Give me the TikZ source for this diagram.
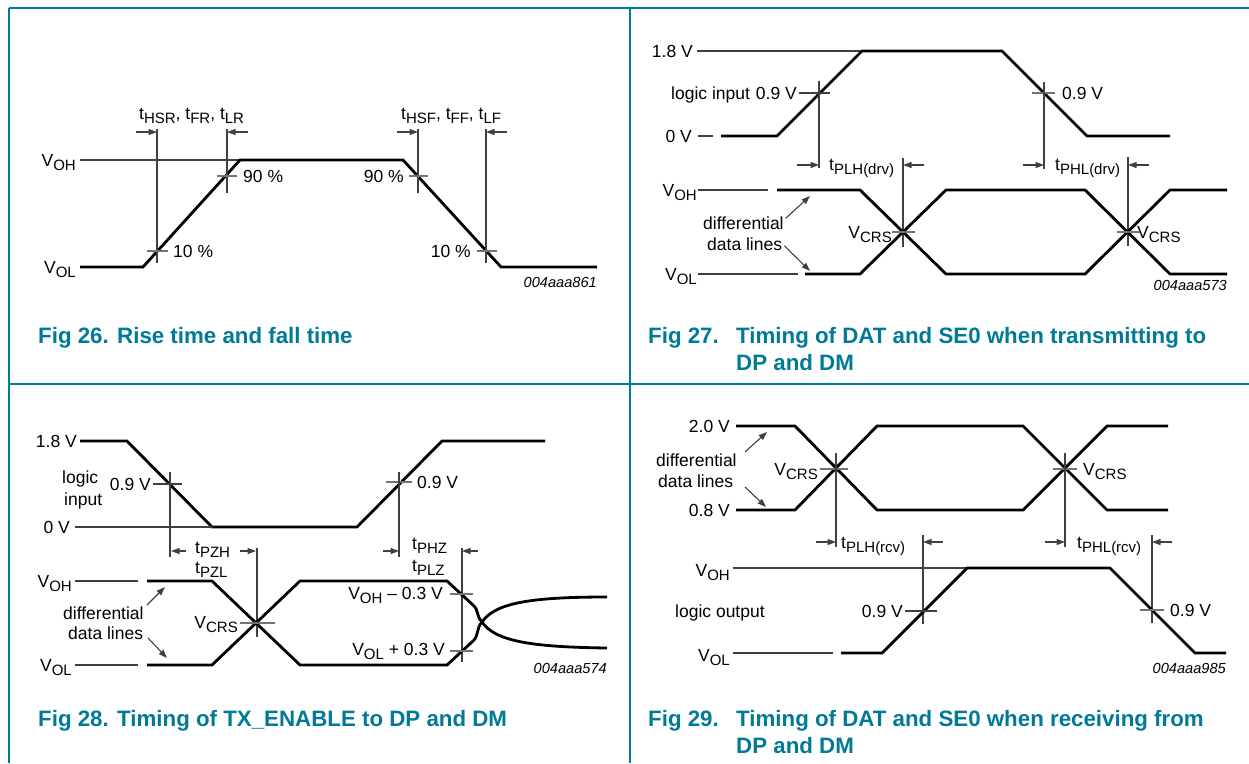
\documentclass[tikz,border=0pt]{standalone}
\usepackage{fontspec}
\setmainfont{Liberation Sans}
\usetikzlibrary{arrows.meta}
\definecolor{nxpblue}{RGB}{0,122,150}
\newcommand{\lo}[1]{\raisebox{-4pt}{\fontsize{15}{15}\selectfont #1}}
\tikzset{
  sig/.style={line width=2.8pt},
  thin/.style={line width=1.1pt, black!75},
  tickline/.style={line width=1.1pt, black!55},
  dim/.style={-{Triangle[length=8.5pt,width=6pt]}, line width=1.1pt, black!75},
  lab/.style={font=\fontsize{17.5}{21}\selectfont, inner sep=0pt},
  capt/.style={font=\fontsize{22.3}{26}\selectfont\bfseries, text=nxpblue, anchor=base west, inner sep=0pt},
  code/.style={font=\fontsize{14.6}{16}\selectfont\itshape, anchor=base east, inner sep=0pt},
  frame/.style={nxpblue, line width=1.8pt}
}
\begin{document}
\begin{tikzpicture}[x=1pt,y=-1pt]
  \useasboundingbox (0,0) rectangle (1249,763);

  % frame
  \draw[frame] (9,8) -- (1249,8);
  \draw[frame] (9,8) -- (9,763);
  \draw[frame] (630,8) -- (630,763);
  \draw[frame] (9,384) -- (1249,384);

  % captions
  \node[capt] (c26a) at (38,343) {Fig 26.};
  \node[capt] (c26b) at (117,343) {Rise time and fall time};
  \node[capt] (c27a) at (648,343) {Fig 27.};
  \node[capt] (c27b) at (736,343) {Timing of DAT and SE0 when transmitting to};
  \node[capt] (c27c) at (736,370) {DP and DM};
  \node[capt] (c28a) at (38,726) {Fig 28.};
  \node[capt] (c28b) at (117,726) {Timing of TX\_ENABLE to DP and DM};
  \node[capt] (c29a) at (648,726) {Fig 29.};
  \node[capt] (c29b) at (736,726) {Timing of DAT and SE0 when receiving from};
  \node[capt] (c29c) at (736,753) {DP and DM};

  % ---- Fig 26: rise and fall time
  \begin{scope}[every node/.style={lab}]
    \node[anchor=base east] (voh26) at (76,166) {V\lo{OH}};
    \node[anchor=base east] (vol26) at (76,273) {V\lo{OL}};
    \node[anchor=base west] (tr26) at (139,119) {t\lo{HSR}, t\lo{FR}, t\lo{LR}};
    \node[anchor=base west] (tf26) at (401,119) {t\lo{HSF}, t\lo{FF}, t\lo{LF}};
    \node[anchor=base west] (r10) at (173,257) {10 \%};
    \node[anchor=base west] (r90) at (243,182) {90 \%};
    \node[anchor=base east] (f90) at (404,182) {90 \%};
    \node[anchor=base east] (f10) at (471,257) {10 \%};
  \end{scope}
  \node[code] (id26) at (597,287) {004aaa861};
  \draw[thin] (80,160) -- (240,160);
  \draw[sig] (80,267) -- (143,267) -- (240,160) -- (403,160) -- (501,267) -- (597,267);
  \draw[thin] (157,129) -- (157,263);
  \draw[thin] (227,129) -- (227,193);
  \draw[thin] (418,129) -- (418,193);
  \draw[thin] (486,129) -- (486,263);
  \draw[tickline] (147,251) -- (168,251);
  \draw[tickline] (217,176) -- (237,176);
  \draw[tickline] (409,176) -- (428,176);
  \draw[tickline] (477,251) -- (497,251);
  \draw[dim] (136,132) -- (157,132);
  \draw[dim] (248,132) -- (227,132);
  \draw[dim] (397,132) -- (418,132);
  \draw[dim] (507,132) -- (486,132);

  % ---- Fig 27: transmitting
  \begin{scope}[every node/.style={lab}]
    \node[anchor=base east] (v18a) at (693,57) {1.8 V};
    \node[anchor=base east] (v0a) at (692,142) {0 V};
    \node[anchor=base west] (li27) at (671,99) {logic input};
    \node[anchor=base east] (v09a) at (797,99) {0.9 V};
    \node[anchor=base west] (v09b) at (1062,99) {0.9 V};
    \node[anchor=base west] (tplh) at (829,170) {t\lo{PLH(drv)}};
    \node[anchor=base west] (tphl) at (1055,170) {t\lo{PHL(drv)}};
    \node[anchor=base east] (voh27) at (697,196) {V\lo{OH}};
    \node[anchor=base east] (vol27) at (697,280) {V\lo{OL}};
    \node[anchor=base west] (df27) at (703,229) {differential};
    \node[anchor=base west] (dl27) at (707,250) {data lines};
    \node[anchor=base east] (crs27a) at (892,238) {V\lo{CRS}};
    \node[anchor=base west] (crs27b) at (1137,238) {V\lo{CRS}};
  \end{scope}
  \node[code] (id27) at (1227,290) {004aaa573};
  \draw[thin] (697,51) -- (862,51);
  \draw[thin] (698,136) -- (713,136);
  \draw[sig] (721,136) -- (777,136) -- (862,51) -- (1002,51) -- (1087,136) -- (1170,136);
  \draw[thin] (799,93) -- (830,93);
  \draw[thin] (819,81) -- (819,168);
  \draw[tickline] (1032,93) -- (1055,93);
  \draw[thin] (1044,82) -- (1044,169);
  \draw[dim] (797,165) -- (819,165);
  \draw[dim] (924,165) -- (903,165);
  \draw[dim] (1023,165) -- (1044,165);
  \draw[dim] (1149,165) -- (1128,165);
  \draw[thin] (903,158) -- (903,247);
  \draw[thin] (1128,157) -- (1128,246);
  \draw[thin] (698,190) -- (768,190);
  \draw[thin] (698,274) -- (798,274);
  \draw[sig] (777,190) -- (860,190) -- (946,274) -- (1085,274) -- (1170,190) -- (1227,190);
  \draw[sig] (805,274) -- (860,274) -- (946,190) -- (1085,190) -- (1170,274) -- (1227,274);
  \draw[tickline] (892,232) -- (915,232);
  \draw[tickline] (1117,232) -- (1140,232);
  \draw[dim] (df27.north east) ++(2,2) -- (810,196);
  \draw[dim] (dl27.east) ++(2,2) -- (810,271);

  % ---- Fig 28: TX_ENABLE
  \begin{scope}[every node/.style={lab}]
    \node[anchor=base east] (v18c) at (77,447) {1.8 V};
    \node[anchor=base east] (v0c) at (70,533) {0 V};
    \node[anchor=base west] (lg28) at (62,483) {logic};
    \node[anchor=base west] (in28) at (64,505) {input};
    \node[anchor=base east] (v09c) at (151,490) {0.9 V};
    \node[anchor=base west] (v09d) at (417,488) {0.9 V};
    \node[anchor=base west] (tpzh) at (195,553) {t\lo{PZH}};
    \node[anchor=base west] (tpzl) at (195,573) {t\lo{PZL}};
    \node[anchor=base west] (tphz) at (412,549) {t\lo{PHZ}};
    \node[anchor=base west] (tplz) at (412,571) {t\lo{PLZ}};
    \node[anchor=base east] (voh28) at (72,587) {V\lo{OH}};
    \node[anchor=base east] (vol28) at (72,671) {V\lo{OL}};
    \node[anchor=base west] (df28) at (63,619) {differential};
    \node[anchor=base west] (dl28) at (68,639) {data lines};
    \node[anchor=base east] (crs28) at (238,628) {V\lo{CRS}};
    \node[anchor=base east] (voh3) at (443,599) {V\lo{OH} – 0.3 V};
    \node[anchor=base east] (vol3) at (445,655) {V\lo{OL} + 0.3 V};
  \end{scope}
  \node[code] (id28) at (607,673) {004aaa574};
  \draw[sig] (80,441) -- (127,441) -- (212,527) -- (357,527) -- (442,441) -- (545,441);
  \draw[thin] (75,527) -- (212,527);
  \draw[thin] (153,484) -- (182,484);
  \draw[thin] (170,472) -- (170,557);
  \draw[tickline] (386,482) -- (412,482);
  \draw[thin] (399,472) -- (399,557);
  \draw[dim] (186,551) -- (171,551);
  \draw[dim] (240,551) -- (256,551);
  \draw[thin] (257,548) -- (257,637);
  \draw[dim] (383,551) -- (399,551);
  \draw[dim] (478,551) -- (462,551);
  \draw[thin] (462,548) -- (462,662);
  \draw[thin] (75,581) -- (138,581);
  \draw[thin] (75,665) -- (138,665);
  \draw[sig] (147,581) -- (212,581) -- (300,665) -- (447,665) -- (473,641)
    .. controls (479,636) and (476,628) .. (482,622)
    .. controls (495,603) and (530,597) .. (607,597);
  \draw[sig] (147,665) -- (212,665) -- (300,581) -- (447,581) -- (473,605)
    .. controls (479,610) and (476,616) .. (482,622)
    .. controls (495,641) and (530,647) .. (607,648);
  \draw[tickline] (240,623) -- (275,623);
  \draw[tickline] (450,594) -- (473,594);
  \draw[tickline] (450,651) -- (473,651);
  \draw[dim] (147,605) -- (165,587);
  \draw[dim] (148,638) -- (167,658);

  % ---- Fig 29: receiving
  \begin{scope}[every node/.style={lab}]
    \node[anchor=base east] (v20) at (730,432) {2.0 V};
    \node[anchor=base east] (v08) at (730,516) {0.8 V};
    \node[anchor=base west] (df29) at (656,466) {differential};
    \node[anchor=base west] (dl29) at (658,487) {data lines};
    \node[anchor=base east] (crs29a) at (818,475) {V\lo{CRS}};
    \node[anchor=base west] (crs29b) at (1083,475) {V\lo{CRS}};
    \node[anchor=base west] (tplhr) at (841,548) {t\lo{PLH(rcv)}};
    \node[anchor=base west] (tphlr) at (1077,548) {t\lo{PHL(rcv)}};
    \node[anchor=base east] (voh29) at (730,576) {V\lo{OH}};
    \node[anchor=base west] (lo29) at (675,617) {logic output};
    \node[anchor=base east] (v09e) at (903,617) {0.9 V};
    \node[anchor=base west] (v09f) at (1170,616) {0.9 V};
    \node[anchor=base east] (vol29) at (730,661) {V\lo{OL}};
  \end{scope}
  \node[code] (id29) at (1226,673) {004aaa985};
  \draw[sig] (736,426) -- (795,426) -- (877,510) -- (1023,510) -- (1107,426) -- (1168,426);
  \draw[sig] (736,510) -- (795,510) -- (877,426) -- (1023,426) -- (1107,510) -- (1168,510);
  \draw[dim] (745,452) -- (767,432);
  \draw[dim] (745,487) -- (766,507);
  \draw[tickline] (820,469) -- (848,469);
  \draw[tickline] (1053,469) -- (1077,469);
  \draw[thin] (836,453) -- (836,547);
  \draw[thin] (1065,453) -- (1065,547);
  \draw[dim] (816,542) -- (836,542);
  \draw[dim] (943,542) -- (923,542);
  \draw[dim] (1045,542) -- (1065,542);
  \draw[dim] (1172,542) -- (1152,542);
  \draw[thin] (923,535) -- (923,624);
  \draw[thin] (1152,535) -- (1152,623);
  \draw[thin] (733,568) -- (967,568);
  \draw[thin] (733,653) -- (833,653);
  \draw[sig] (841,653) -- (882,653) -- (967,568) -- (1110,568) -- (1195,653) -- (1226,653);
  \draw[thin] (905,611) -- (937,611);
  \draw[tickline] (1140,610) -- (1164,610);
\end{tikzpicture}
\end{document}
